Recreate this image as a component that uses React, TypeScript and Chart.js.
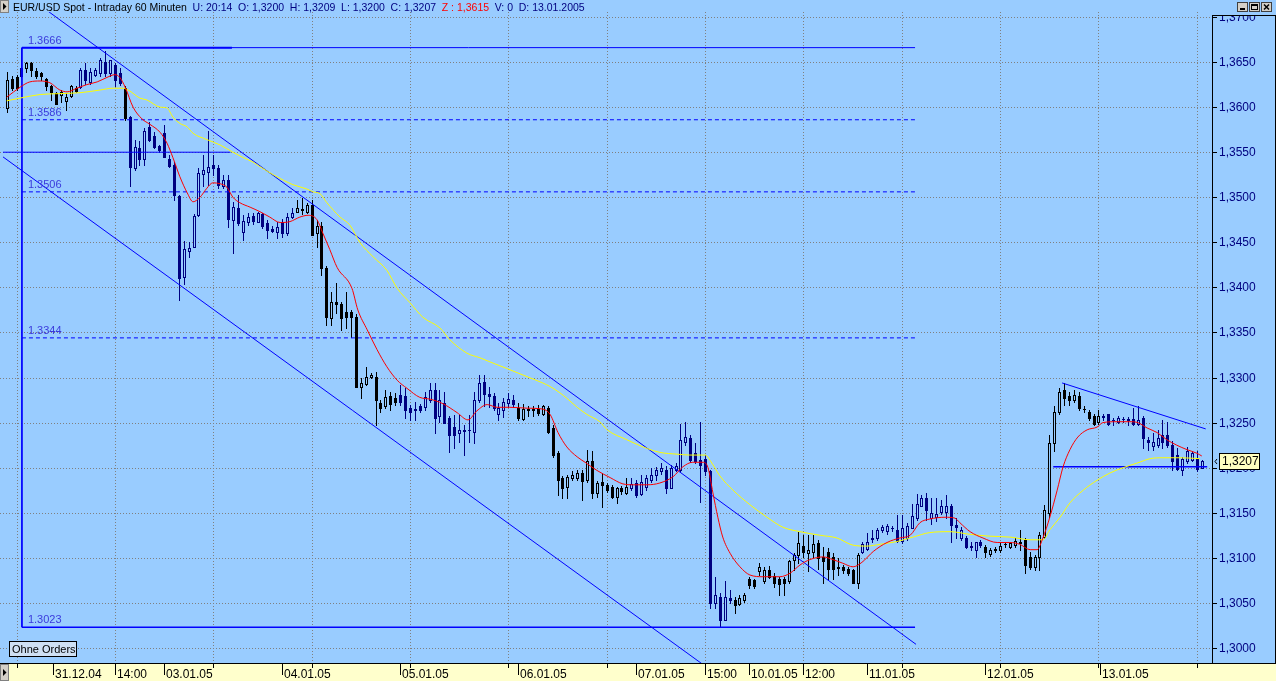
import React, { useEffect, useRef } from 'react';
import { Chart, registerables } from 'chart.js';

Chart.register(...registerables);

const CANVAS_W = 1276;
const CANVAS_H = 681;

// ---- hourly EUR/USD candles (index 0 = 30.12.04 afternoon ... 243 = 13.01.05 20:00)
const opens = [
  1.3599,1.3631,1.3633,1.3643,1.3643,1.3649,1.3640,1.3638,1.3631,1.3623,
  1.3616,1.3613,1.3607,1.3612,1.3621,1.3622,1.3641,1.3628,1.3636,1.3638,
  1.3650,1.3638,1.3647,1.3638,1.3621,1.3589,1.3532,1.3555,1.3543,1.3578,
  1.3568,1.3557,1.3571,1.3543,1.3536,1.3501,1.3412,1.3440,1.3445,1.3480,
  1.3526,1.3528,1.3536,1.3532,1.3512,1.3519,1.3475,1.3488,1.3462,1.3473,
  1.3479,1.3473,1.3481,1.3471,1.3465,1.3462,1.3473,1.3460,1.3478,1.3484,
  1.3486,1.3484,1.3491,1.3460,1.3468,1.3422,1.3366,1.3384,1.3382,1.3373,
  1.3373,1.3367,1.3290,1.3293,1.3301,1.3301,1.3272,1.3268,1.3280,1.3277,
  1.3281,1.3279,1.3266,1.3265,1.3268,1.3267,1.3275,1.3286,1.3257,1.3272,
  1.3255,1.3245,1.3238,1.3242,1.3242,1.3240,1.3275,1.3295,1.3282,1.3279,
  1.3259,1.3264,1.3272,1.3275,1.3266,1.3254,1.3265,1.3264,1.3265,1.3260,
  1.3266,1.3244,1.3216,1.3188,1.3179,1.3189,1.3189,1.3194,1.3186,1.3207,
  1.3172,1.3184,1.3181,1.3179,1.3168,1.3177,1.3172,1.3177,1.3183,1.3171,
  1.3179,1.3186,1.3192,1.3196,1.3197,1.3177,1.3197,1.3197,1.3229,1.3233,
  1.3216,1.3209,1.3210,1.3196,1.3050,1.3057,1.3031,1.3055,1.3053,1.3049,
  1.3053,1.3076,1.3075,1.3085,1.3074,1.3087,1.3080,1.3076,1.3076,1.3074,
  1.3098,1.3103,1.3113,1.3105,1.3107,1.3116,1.3101,1.3107,1.3101,1.3090,
  1.3090,1.3088,1.3087,1.3072,1.3107,1.3110,1.3121,1.3122,1.3131,1.3130,
  1.3133,1.3131,1.3119,1.3122,1.3133,1.3144,1.3158,1.3166,1.3144,1.3145,
  1.3151,1.3151,1.3157,1.3136,1.3122,1.3122,1.3113,1.3109,1.3118,1.3112,
  1.3104,1.3110,1.3109,1.3115,1.3112,1.3114,1.3117,1.3120,1.3101,1.3090,
  1.3101,1.3123,1.3150,1.3227,1.3262,1.3286,1.3279,1.3275,1.3279,1.3265,
  1.3262,1.3257,1.3251,1.3257,1.3259,1.3253,1.3251,1.3254,1.3254,1.3254,
  1.3249,1.3255,1.3231,1.3224,1.3225,1.3236,1.3236,1.3225,1.3214,1.3197,
  1.3207,1.3209,1.3210,1.3200,
];
const highs = [
  1.3639,1.3635,1.3636,1.3666,1.3650,1.3650,1.3643,1.3639,1.3632,1.3625,
  1.3617,1.3619,1.3616,1.3625,1.3624,1.3643,1.3649,1.3643,1.3643,1.3654,
  1.3662,1.3652,1.3649,1.3643,1.3623,1.3590,1.3564,1.3562,1.3577,1.3584,
  1.3572,1.3558,1.3580,1.3547,1.3539,1.3503,1.3451,1.3450,1.3481,1.3533,
  1.3547,1.3573,1.3547,1.3536,1.3525,1.3525,1.3495,1.3503,1.3480,1.3482,
  1.3482,1.3484,1.3482,1.3475,1.3468,1.3473,1.3476,1.3482,1.3488,1.3497,
  1.3499,1.3494,1.3497,1.3475,1.3473,1.3424,1.3395,1.3405,1.3384,1.3395,
  1.3375,1.3370,1.3300,1.3312,1.3305,1.3306,1.3275,1.3286,1.3284,1.3283,
  1.3292,1.3288,1.3270,1.3273,1.3271,1.3284,1.3294,1.3294,1.3286,1.3284,
  1.3257,1.3258,1.3258,1.3247,1.3258,1.3284,1.3303,1.3303,1.3290,1.3283,
  1.3272,1.3277,1.3283,1.3281,1.3272,1.3271,1.3268,1.3268,1.3270,1.3270,
  1.3268,1.3247,1.3219,1.3191,1.3192,1.3196,1.3197,1.3197,1.3220,1.3219,
  1.3185,1.3194,1.3183,1.3181,1.3179,1.3180,1.3189,1.3189,1.3186,1.3192,
  1.3192,1.3200,1.3201,1.3205,1.3202,1.3203,1.3205,1.3248,1.3251,1.3236,
  1.3227,1.3251,1.3214,1.3197,1.3079,1.3061,1.3074,1.3064,1.3057,1.3059,
  1.3061,1.3079,1.3077,1.3094,1.3090,1.3091,1.3083,1.3079,1.3079,1.3098,
  1.3105,1.3129,1.3125,1.3125,1.3125,1.3120,1.3112,1.3111,1.3105,1.3100,
  1.3092,1.3090,1.3088,1.3105,1.3118,1.3127,1.3131,1.3133,1.3136,1.3137,
  1.3135,1.3148,1.3148,1.3139,1.3160,1.3171,1.3170,1.3172,1.3166,1.3166,
  1.3164,1.3170,1.3160,1.3144,1.3134,1.3124,1.3118,1.3118,1.3120,1.3114,
  1.3111,1.3112,1.3116,1.3118,1.3118,1.3122,1.3131,1.3122,1.3107,1.3103,
  1.3129,1.3159,1.3236,1.3268,1.3288,1.3294,1.3284,1.3286,1.3284,1.3268,
  1.3264,1.3259,1.3264,1.3259,1.3260,1.3255,1.3257,1.3256,1.3256,1.3266,
  1.3268,1.3257,1.3234,1.3238,1.3242,1.3253,1.3251,1.3230,1.3222,1.3212,
  1.3223,1.3219,1.3218,1.3209,
];
const lows = [
  1.3595,1.3619,1.3619,1.3633,1.3639,1.3634,1.3632,1.3630,1.3619,1.3608,
  1.3604,1.3606,1.3597,1.3611,1.3617,1.3621,1.3626,1.3626,1.3635,1.3634,
  1.3634,1.3634,1.3623,1.3625,1.3586,1.3512,1.3530,1.3536,1.3536,1.3562,
  1.3555,1.3550,1.3545,1.3534,1.3497,1.3386,1.3404,1.3434,1.3445,1.3479,
  1.3512,1.3514,1.3525,1.3510,1.3510,1.3467,1.3438,1.3469,1.3453,1.3469,
  1.3470,1.3473,1.3466,1.3455,1.3461,1.3455,1.3456,1.3458,1.3477,1.3484,
  1.3481,1.3483,1.3458,1.3445,1.3414,1.3358,1.3358,1.3372,1.3353,1.3355,
  1.3345,1.3290,1.3277,1.3292,1.3300,1.3247,1.3262,1.3266,1.3264,1.3270,
  1.3270,1.3255,1.3253,1.3253,1.3262,1.3264,1.3273,1.3238,1.3251,1.3250,
  1.3217,1.3222,1.3228,1.3214,1.3228,1.3227,1.3273,1.3268,1.3267,1.3264,
  1.3253,1.3256,1.3267,1.3267,1.3253,1.3253,1.3257,1.3257,1.3258,1.3258,
  1.3239,1.3212,1.3170,1.3166,1.3166,1.3186,1.3186,1.3164,1.3184,1.3166,
  1.3167,1.3156,1.3173,1.3166,1.3161,1.3171,1.3171,1.3175,1.3167,1.3170,
  1.3175,1.3184,1.3186,1.3193,1.3172,1.3177,1.3196,1.3196,1.3225,1.3206,
  1.3205,1.3162,1.3192,1.3044,1.3044,1.3024,1.3031,1.3050,1.3039,1.3048,
  1.3051,1.3067,1.3066,1.3081,1.3072,1.3078,1.3068,1.3059,1.3059,1.3072,
  1.3087,1.3094,1.3101,1.3085,1.3101,1.3088,1.3072,1.3077,1.3077,1.3081,
  1.3083,1.3081,1.3072,1.3066,1.3105,1.3109,1.3118,1.3120,1.3129,1.3126,
  1.3130,1.3118,1.3116,1.3120,1.3133,1.3142,1.3157,1.3142,1.3138,1.3141,
  1.3149,1.3144,1.3118,1.3122,1.3120,1.3111,1.3109,1.3101,1.3112,1.3101,
  1.3102,1.3107,1.3107,1.3112,1.3111,1.3112,1.3109,1.3083,1.3088,1.3087,
  1.3087,1.3122,1.3145,1.3218,1.3260,1.3270,1.3270,1.3273,1.3264,1.3262,
  1.3253,1.3247,1.3249,1.3253,1.3247,1.3247,1.3250,1.3251,1.3247,1.3247,
  1.3247,1.3222,1.3220,1.3220,1.3223,1.3222,1.3223,1.3197,1.3197,1.3192,
  1.3205,1.3207,1.3196,1.3200,
];
const closes = [
  1.3630,1.3621,1.3621,1.3635,1.3649,1.3641,1.3634,1.3634,1.3623,1.3617,
  1.3604,1.3617,1.3611,1.3623,1.3618,1.3641,1.3630,1.3639,1.3641,1.3652,
  1.3638,1.3652,1.3630,1.3627,1.3588,1.3534,1.3556,1.3543,1.3573,1.3563,
  1.3556,1.3552,1.3545,1.3535,1.3503,1.3410,1.3443,1.3444,1.3479,1.3527,
  1.3530,1.3534,1.3532,1.3514,1.3519,1.3476,1.3489,1.3471,1.3474,1.3478,
  1.3474,1.3482,1.3468,1.3464,1.3463,1.3467,1.3460,1.3478,1.3483,1.3488,
  1.3487,1.3491,1.3458,1.3468,1.3422,1.3367,1.3384,1.3382,1.3366,1.3367,
  1.3367,1.3290,1.3294,1.3301,1.3303,1.3275,1.3266,1.3278,1.3271,1.3273,
  1.3273,1.3264,1.3262,1.3264,1.3264,1.3278,1.3286,1.3255,1.3275,1.3250,
  1.3236,1.3236,1.3242,1.3241,1.3242,1.3275,1.3294,1.3282,1.3279,1.3266,
  1.3266,1.3273,1.3276,1.3271,1.3255,1.3265,1.3264,1.3265,1.3261,1.3268,
  1.3240,1.3214,1.3186,1.3177,1.3190,1.3192,1.3194,1.3185,1.3207,1.3172,
  1.3183,1.3181,1.3175,1.3168,1.3177,1.3174,1.3179,1.3182,1.3170,1.3184,
  1.3188,1.3192,1.3197,1.3200,1.3177,1.3200,1.3202,1.3231,1.3234,1.3209,
  1.3207,1.3203,1.3196,1.3050,1.3059,1.3031,1.3057,1.3053,1.3048,1.3055,
  1.3059,1.3070,1.3069,1.3090,1.3086,1.3079,1.3072,1.3071,1.3072,1.3096,
  1.3103,1.3116,1.3107,1.3109,1.3115,1.3100,1.3096,1.3088,1.3088,1.3089,
  1.3087,1.3083,1.3072,1.3103,1.3115,1.3118,1.3122,1.3131,1.3134,1.3135,
  1.3133,1.3119,1.3133,1.3135,1.3146,1.3160,1.3166,1.3153,1.3150,1.3149,
  1.3157,1.3157,1.3136,1.3134,1.3131,1.3112,1.3112,1.3117,1.3114,1.3106,
  1.3109,1.3109,1.3113,1.3115,1.3116,1.3119,1.3116,1.3092,1.3090,1.3101,
  1.3125,1.3153,1.3227,1.3262,1.3284,1.3277,1.3275,1.3281,1.3266,1.3265,
  1.3255,1.3249,1.3257,1.3256,1.3249,1.3253,1.3255,1.3254,1.3253,1.3249,
  1.3253,1.3233,1.3228,1.3229,1.3233,1.3229,1.3225,1.3207,1.3199,1.3210,
  1.3218,1.3216,1.3199,1.3207,
];
// candle tone runs: [first index, 0 = black, 1 = navy]
const toneRuns = [[0, 0], [3, 1], [4, 0], [15, 1], [24, 0], [25, 1], [59, 0], [80, 1], [104, 0], [127, 1], [148, 0], [174, 1], [199, 0], [223, 1]];

// ---- moving averages: [candle index, price]
const redMA = [
  [0,1.3611],[2.7,1.3622],[4.7,1.3628],[6.8,1.3629],[8.8,1.3627],[10.8,1.3619],[12.3,1.3617],[14.3,1.3621],
  [16.3,1.3625],[18.4,1.3628],[20.4,1.3633],[22,1.3636],[23,1.3633],[24.1,1.3622],[25.7,1.3600],[27.5,1.3587],
  [29.1,1.3581],[31.2,1.3572],[32.6,1.3560],[33.8,1.3544],[35.2,1.3523],[36.7,1.3505],[37.9,1.3495],[39.3,1.3500],
  [40.7,1.3510],[41.9,1.3516],[43.4,1.3515],[44.8,1.3511],[46,1.3500],[47.4,1.3494],[49.5,1.3489],[51.5,1.3484],
  [53.5,1.3478],[55.6,1.3472],[57.6,1.3473],[59.6,1.3478],[61.3,1.3480],[63.1,1.3475],[64.3,1.3460],[65.7,1.3442],
  [67.2,1.3422],[70.2,1.3399],[71.4,1.3375],[73.3,1.3353],[75.3,1.3331],[77.3,1.3312],[79.4,1.3297],[81.4,1.3288],
  [84,1.3278],[86.1,1.3276],[88.7,1.3271],[91.6,1.3261],[93.8,1.3253],[95.6,1.3263],[97.7,1.3270],[99.7,1.3267],
  [102.3,1.3267],[105.8,1.3266],[109,1.3265],[110.5,1.3259],[112.1,1.3239],[113.9,1.3223],[116,1.3212],[117.6,1.3206],
  [120,1.3197],[122.7,1.3189],[125.3,1.3182],[127.4,1.3181],[130.2,1.3181],[132.8,1.3183],[135.5,1.3190],[137.5,1.3201],
  [139.5,1.3206],[141.6,1.3206],[142.6,1.3200],[143.6,1.3172],[144.6,1.3145],[145.6,1.3123],[147.1,1.3105],[149.1,1.3090],
  [151.1,1.3081],[153.8,1.3079],[157.2,1.3079],[159.3,1.3083],[161.3,1.3092],[163.3,1.3098],[166,1.3101],[168,1.3098],
  [170,1.3094],[172.1,1.3090],[173.9,1.3095],[176.2,1.3107],[179,1.3117],[181.6,1.3122],[183.7,1.3125],[185.7,1.3139],
  [187.7,1.3143],[190.8,1.3145],[192.8,1.3144],[193.8,1.3139],[195.9,1.3129],[198.5,1.3122],[201.4,1.3117],[204,1.3117],
  [206,1.3115],[208.1,1.3109],[209.5,1.3109],[210.7,1.3122],[212.1,1.3145],[213.6,1.3175],[214.8,1.3201],[216.2,1.3220],
  [217.8,1.3234],[219.7,1.3242],[221.7,1.3245],[222.9,1.3250],[225.8,1.3251],[228.4,1.3251],[230,1.3250],[231.9,1.3244],
  [233.9,1.3239],[235.9,1.3231],[237.9,1.3225],[240,1.3220],[242,1.3216],[243,1.3213],
];
const yellowMA = [
  [0,1.3607],[2.7,1.3610],[6.8,1.3614],[10.8,1.3615],[14.9,1.3616],[19,1.3619],[21.6,1.3621],[23.6,1.3621],
  [24.7,1.3619],[27.1,1.3610],[28.5,1.3608],[31.2,1.3600],[32.6,1.3599],[33.8,1.3589],[35.2,1.3582],[36.7,1.3578],
  [37.9,1.3571],[40.7,1.3564],[43.4,1.3558],[46,1.3550],[48.1,1.3544],[50.1,1.3539],[51.5,1.3534],[54.2,1.3525],
  [56.6,1.3518],[58.2,1.3514],[61.1,1.3509],[62.3,1.3506],[63.7,1.3504],[65.1,1.3494],[67.8,1.3478],[69.8,1.3469],
  [71.8,1.3450],[74.5,1.3434],[77.3,1.3419],[79.4,1.3399],[82,1.3383],[84.6,1.3367],[88.1,1.3355],[90.1,1.3342],
  [93.6,1.3327],[96.2,1.3322],[98.9,1.3316],[101.7,1.3310],[105.8,1.3301],[109,1.3294],[110.5,1.3290],[112.5,1.3283],
  [113.9,1.3277],[116,1.3267],[118,1.3259],[120.6,1.3251],[122.1,1.3242],[126.1,1.3231],[129.4,1.3223],[132.8,1.3217],
  [136.3,1.3215],[138.9,1.3214],[142,1.3214],[143.4,1.3205],[145,1.3191],[147.7,1.3175],[151.1,1.3159],[154.6,1.3145],
  [157.8,1.3134],[161.3,1.3129],[165.4,1.3125],[168.8,1.3122],[172.1,1.3114],[174.9,1.3113],[177.6,1.3115],[181,1.3118],
  [184.3,1.3123],[187.7,1.3128],[191.8,1.3129],[195.9,1.3126],[199.9,1.3124],[204,1.3123],[208.1,1.3120],[210.7,1.3120],
  [212.1,1.3131],[214.2,1.3145],[216.2,1.3161],[218.9,1.3175],[221.7,1.3186],[224.3,1.3194],[227,1.3200],[229.8,1.3205],
  [232.5,1.3210],[235.1,1.3211],[238.6,1.3211],[242.6,1.3210],
];

// ---- drawn tools
const boxLevels = [1.3666, 1.3586, 1.3506, 1.3344, 1.3023];
const boxLevelLabels = ['1.3666', '1.3586', '1.3506', '1.3344', '1.3023'];
const boxSpan = [3.1, 184.7];
const boxTopThickEnd = 45.8;
const supportLevel = 1.3550;
const supportSpan = [-0.8, 45.5];
const channelUpper = [[5, 1.3720], [184.9, 1.3004]];
const channelLower = [[-0.8, 1.3545], [143, 1.2976]];
const wedgeLine = [[214.6, 1.3294], [243.8, 1.3243]];
const lastLine = [[212.8, 1.3201], [244.1, 1.3201]];
const lastPrice = 1.3207;

// ---- axes
const yTickValues = [1.300, 1.305, 1.310, 1.315, 1.320, 1.325, 1.330, 1.335, 1.340, 1.345, 1.350, 1.355, 1.360, 1.365, 1.370];
const gridIdx = [2, 22, 42, 62, 82, 102, 122, 142, 162, 182, 202, 222, 242];
const timeTickIdx = [9.4, 22, 32, 56, 80, 104, 128, 142, 151, 162, 175, 199, 222.4];
const timeTickLabels = ['31.12.04', '14:00', '03.01.05', '04.01.05', '05.01.05', '06.01.05', '07.01.05', '15:00', '10.01.05', '12:00', '11.01.05', '12.01.05', '13.01.05'];
const titleParts = [
  ['EUR/USD Spot - Intraday 60 Minuten', '#000000'],
  ['U: 20:14', '#000080'],
  ['O: 1,3200', '#000080'],
  ['H: 1,3209', '#000080'],
  ['L: 1,3200', '#000080'],
  ['C: 1,3207', '#000080'],
  ['Z : 1,3615', '#FF0000'],
  ['V: 0', '#000080'],
  ['D: 13.01.2005', '#000080'],
];

const BG = '#99CCFF';
const NAVY = '#000080';
const BLUE = '#0000FF';
const FONT = '"Liberation Sans", Arial, sans-serif';

function toneAt(i: number) {
  let t = 0;
  for (const [s, v] of toneRuns) if (i >= s) t = v;
  return t;
}

const pts = (arr: number[][]) => arr.map(([x, y]) => ({ x, y }));
const hLine = (level: number, span: number[]) => [{ x: span[0], y: level }, { x: span[1], y: level }];

const decorPlugin = {
  id: 'fxDecor',
  beforeDraw(chart: any) {
    const { ctx } = chart;
    ctx.save();
    ctx.fillStyle = BG;
    ctx.fillRect(0, 0, CANVAS_W, CANVAS_H);
    ctx.restore();
  },
  beforeDatasetsDraw(chart: any) {
    const { ctx, chartArea: a } = chart;
    const xs = chart.scales.x;
    const ys = chart.scales.y;
    ctx.save();
    // dotted grid
    ctx.strokeStyle = '#808080';
    ctx.lineWidth = 1;
    ctx.setLineDash([1, 2]);
    for (const v of yTickValues) {
      const py = Math.round(ys.getPixelForValue(v)) + 0.5;
      ctx.beginPath();
      ctx.moveTo(0, py);
      ctx.lineTo(a.right, py);
      ctx.stroke();
    }
    for (const k of gridIdx) {
      const px = Math.round(xs.getPixelForValue(k)) + 0.5;
      ctx.beginPath();
      ctx.moveTo(px, a.top);
      ctx.lineTo(px, a.bottom);
      ctx.stroke();
    }
    ctx.setLineDash([]);
    // candles
    ctx.beginPath();
    ctx.rect(a.left, a.top, a.right - a.left, a.bottom - a.top);
    ctx.clip();
    for (let i = 0; i < opens.length; i++) {
      const cx = Math.round(xs.getPixelForValue(i));
      const col = toneAt(i) ? NAVY : '#000000';
      const yh = Math.round(ys.getPixelForValue(highs[i]));
      const yl = Math.round(ys.getPixelForValue(lows[i]));
      const yo = Math.round(ys.getPixelForValue(opens[i]));
      const yc = Math.round(ys.getPixelForValue(closes[i]));
      ctx.fillStyle = col;
      ctx.fillRect(cx, yh, 1, Math.max(1, yl - yh + 1));
      const top = Math.min(yo, yc);
      const bot = Math.max(yo, yc);
      ctx.fillRect(cx - 1, top, 3, bot - top + 1);
      if (closes[i] > opens[i] && bot - top >= 2) {
        ctx.fillStyle = BG;
        ctx.fillRect(cx, top + 1, 1, bot - top - 1);
      }
    }
    ctx.restore();
  },
  afterDatasetsDraw(chart: any) {
    const { ctx } = chart;
    const xs = chart.scales.x;
    const ys = chart.scales.y;
    ctx.save();
    ctx.font = `11px ${FONT}`;
    ctx.fillStyle = '#3A3ADC';
    ctx.textBaseline = 'alphabetic';
    ctx.textAlign = 'left';
    const lx = xs.getPixelForValue(boxSpan[0]) + 6;
    boxLevels.forEach((lv, i) => {
      ctx.fillText(boxLevelLabels[i], lx, ys.getPixelForValue(lv) - 4);
    });
    ctx.restore();
  },
  afterDraw(chart: any) {
    const { ctx, chartArea: a } = chart;
    const xs = chart.scales.x;
    const ys = chart.scales.y;
    ctx.save();
    // x axis band
    ctx.fillStyle = '#FFFFCC';
    ctx.fillRect(0, a.bottom, CANVAS_W, CANVAS_H - a.bottom);
    ctx.fillStyle = '#000000';
    ctx.fillRect(0, a.bottom, CANVAS_W, 1);
    ctx.fillStyle = '#000000';
    for (const k of gridIdx) {
      const px = Math.round(xs.getPixelForValue(k));
      ctx.fillRect(px, a.bottom + 1, 1, 4);
    }
    ctx.font = `12px ${FONT}`;
    ctx.textBaseline = 'alphabetic';
    ctx.textAlign = 'left';
    timeTickIdx.forEach((k, i) => {
      const px = Math.round(xs.getPixelForValue(k));
      ctx.fillRect(px, a.bottom + 1, 1, 11);
      ctx.fillText(timeTickLabels[i], px + 2, CANVAS_H - 3);
    });
    // left arrow boxes
    const arrowBox = (x0: number, y0: number, w: number, h: number) => {
      ctx.fillStyle = '#D4D0C8';
      ctx.fillRect(x0, y0, w, h);
      ctx.strokeStyle = '#808080';
      ctx.lineWidth = 1;
      ctx.strokeRect(x0 + 0.5, y0 + 0.5, w - 1, h - 1);
      ctx.fillStyle = '#000000';
      const cy = y0 + h / 2;
      ctx.beginPath();
      ctx.moveTo(x0 + 3, cy - 3.5);
      ctx.lineTo(x0 + 6.5, cy);
      ctx.lineTo(x0 + 3, cy + 3.5);
      ctx.closePath();
      ctx.fill();
    };
    arrowBox(0, a.bottom + 1, 9, CANVAS_H - a.bottom - 1);
    // y axis panel
    const axX = a.right;
    ctx.fillStyle = '#000000';
    ctx.fillRect(axX, 15, 1, a.bottom - 15);
    ctx.fillRect(CANVAS_W - 1, 15, 1, a.bottom - 15);
    ctx.font = `12px ${FONT}`;
    ctx.textBaseline = 'middle';
    yTickValues.forEach((v) => {
      const py = Math.round(ys.getPixelForValue(v));
      ctx.fillStyle = '#000000';
      ctx.fillRect(axX, py, 5, 1);
      ctx.fillStyle = NAVY;
      ctx.fillText(v.toFixed(4).replace('.', ','), axX + 7, py + 0.5);
    });
    // cover above the panel top
    ctx.fillStyle = BG;
    ctx.fillRect(axX + 1, 0, CANVAS_W - axX - 1, 15);
    ctx.fillStyle = '#000000';
    ctx.fillRect(axX, 15, CANVAS_W - axX, 1);
    // window buttons
    const glyphs = ['min', 'max', 'close'];
    glyphs.forEach((g, i) => {
      const bx = 1237 + i * 12;
      const by = 2;
      ctx.fillStyle = '#D4D0C8';
      ctx.fillRect(bx, by, 11, 10);
      ctx.strokeStyle = '#404040';
      ctx.lineWidth = 1;
      ctx.strokeRect(bx + 0.5, by + 0.5, 10, 9);
      ctx.strokeStyle = '#000000';
      ctx.fillStyle = '#000000';
      if (g === 'min') ctx.fillRect(bx + 3, by + 6, 5, 2);
      if (g === 'max') { ctx.strokeRect(bx + 2.5, by + 2.5, 6, 5); ctx.fillRect(bx + 3, by + 2, 5, 2); }
      if (g === 'close') {
        ctx.beginPath();
        ctx.moveTo(bx + 3, by + 2.5); ctx.lineTo(bx + 8, by + 7.5);
        ctx.moveTo(bx + 8, by + 2.5); ctx.lineTo(bx + 3, by + 7.5);
        ctx.lineWidth = 1.5;
        ctx.stroke();
      }
    });
    // title
    arrowBox(0, 0, 9, 13);
    ctx.font = `10.5px ${FONT}`;
    ctx.textBaseline = 'alphabetic';
    let tx = 13;
    titleParts.forEach(([txt, col]) => {
      ctx.fillStyle = col;
      ctx.fillText(txt, tx, 11);
      tx += ctx.measureText(txt).width + 5.7;
    });
    // "Ohne Orders" box
    ctx.fillStyle = '#CFE0F3';
    ctx.fillRect(9, 641, 68, 16);
    ctx.strokeStyle = '#000000';
    ctx.lineWidth = 1;
    ctx.strokeRect(9.5, 641.5, 67, 15);
    ctx.fillStyle = '#000000';
    ctx.font = `11px ${FONT}`;
    ctx.fillText('Ohne Orders', 12, 653);
    // last price tag
    const ly = ys.getPixelForValue(lastPrice);
    ctx.fillStyle = '#FFFFC0';
    ctx.fillRect(axX + 7, Math.round(ly) - 8, 41, 17);
    ctx.strokeStyle = '#000000';
    ctx.strokeRect(axX + 7.5, Math.round(ly) - 7.5, 40, 16);
    ctx.fillStyle = '#000000';
    ctx.font = `12px ${FONT}`;
    ctx.textBaseline = 'middle';
    ctx.fillText(lastPrice.toFixed(4).replace('.', ','), axX + 10, Math.round(ly) + 1);
    ctx.beginPath();
    ctx.moveTo(axX + 5, Math.round(ly) - 2);
    ctx.lineTo(axX + 3, Math.round(ly) + 0.5);
    ctx.lineTo(axX + 5, Math.round(ly) + 3);
    ctx.lineWidth = 1;
    ctx.stroke();
    ctx.restore();
  },
};

export default function App() {
  const canvasRef = useRef<HTMLCanvasElement | null>(null);

  useEffect(() => {
    const canvas = canvasRef.current;
    if (!canvas) return;
    const lineDs = (label: string, data: any[], color: string, width: number, extra: any = {}) => ({
      type: 'line',
      label,
      data,
      borderColor: color,
      backgroundColor: color,
      borderWidth: width,
      pointRadius: 0,
      fill: false,
      tension: 0,
      ...extra,
    });
    const chart = new Chart(canvas, {
      type: 'line',
      data: {
        datasets: [
          lineDs('MA fast', pts(redMA), '#FF0000', 1, { cubicInterpolationMode: 'monotone' }),
          lineDs('MA slow', pts(yellowMA), '#FFFF00', 1, { cubicInterpolationMode: 'monotone' }),
          lineDs('Channel top', pts(channelUpper), BLUE, 1),
          lineDs('Channel bottom', pts(channelLower), BLUE, 1),
          lineDs('Wedge', pts(wedgeLine), BLUE, 1),
          lineDs('Last', pts(lastLine), BLUE, 1.5),
          lineDs('Support', hLine(supportLevel, supportSpan), BLUE, 1),
          lineDs('Box top', hLine(boxLevels[0], boxSpan), BLUE, 1),
          lineDs('Box top bold', hLine(boxLevels[0], [boxSpan[0], boxTopThickEnd]), BLUE, 2),
          lineDs('Level 2', hLine(boxLevels[1], boxSpan), BLUE, 1, { borderDash: [4, 3] }),
          lineDs('Level 3', hLine(boxLevels[2], boxSpan), BLUE, 1, { borderDash: [4, 3] }),
          lineDs('Level 4', hLine(boxLevels[3], boxSpan), BLUE, 1, { borderDash: [4, 3] }),
          lineDs('Box bottom', hLine(boxLevels[4], boxSpan), BLUE, 1.5),
          lineDs('Box side', [{ x: boxSpan[0], y: boxLevels[0] }, { x: boxSpan[0], y: boxLevels[4] }], BLUE, 1),
        ],
      } as any,
      options: {
        responsive: false,
        animation: false,
        devicePixelRatio: 1,
        events: [],
        layout: { padding: { left: 3, right: 64, top: 12, bottom: 18 } },
        plugins: { legend: { display: false }, tooltip: { enabled: false }, title: { display: false } },
        scales: {
          x: { type: 'linear', min: -0.75, max: 245.08, display: false },
          y: { type: 'linear', min: 1.29833, max: 1.370555, display: false },
        },
      } as any,
      plugins: [decorPlugin as any],
    });
    return () => chart.destroy();
  }, []);

  return (
    <div style={{ position: 'fixed', left: 0, top: 0, width: CANVAS_W, height: CANVAS_H, margin: 0, padding: 0 }}>
      <canvas ref={canvasRef} width={CANVAS_W} height={CANVAS_H} style={{ display: 'block', width: CANVAS_W, height: CANVAS_H }} />
    </div>
  );
}
